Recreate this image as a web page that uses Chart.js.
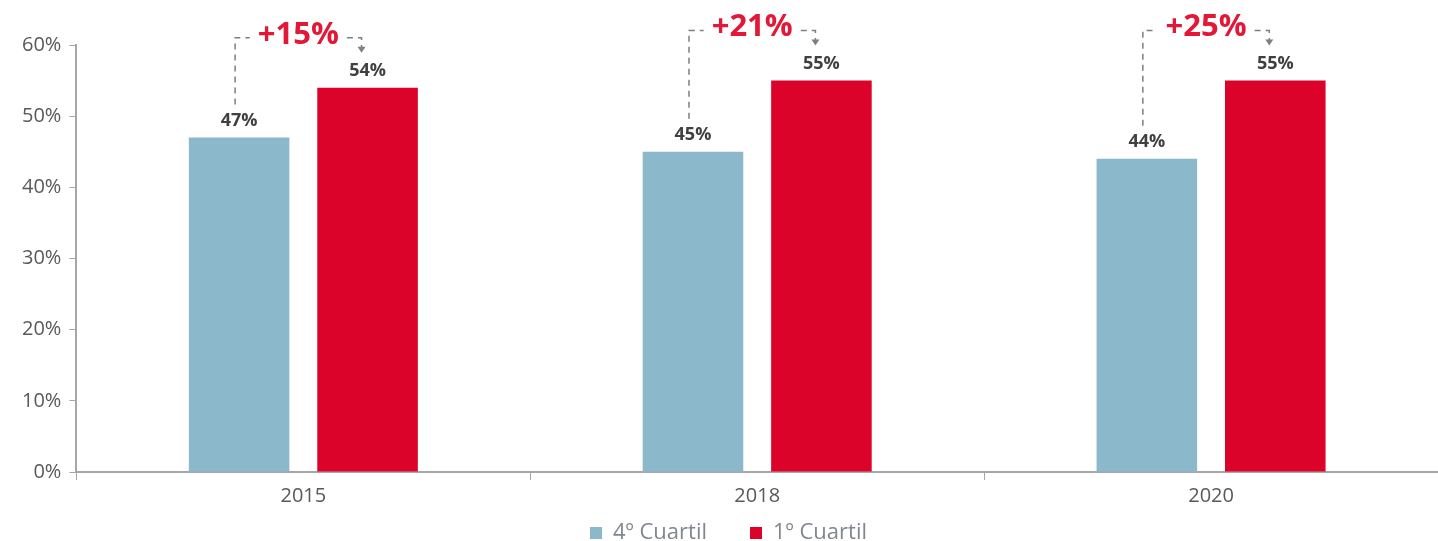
<!DOCTYPE html>
<html>
<head>
<meta charset="utf-8">
<script src="https://cdn.jsdelivr.net/npm/chart.js@4.4.1/dist/chart.umd.min.js"></script>
<style>
  html, body { margin: 0; padding: 0; background: #fff; }
  #wrap { width: 1438px; height: 541px; position: relative; }
</style>
</head>
<body>
<div id="wrap"><canvas id="quartileChart"></canvas></div>
<script>
// Chart data
const categories = ["2015", "2018", "2020"];
const cuartil4 = [47, 45, 44];
const cuartil1 = [54, 55, 55];
const growthLabels = ["+15%", "+21%", "+25%"];
const seriesNames = ["4º Cuartil", "1º Cuartil"];

const BLUE = "#8cb8cc";
const RED = "#dc032b";
const AXIS = "#a6a6a6";
const FONT = "'Open Sans', sans-serif";

// draws the value labels and the dashed growth brackets
const annotatePlugin = {
    id: "annotate",
    afterDatasetsDraw(chart) {
        const ctx = chart.ctx;
        const blueBars = chart.getDatasetMeta(0).data;
        const redBars = chart.getDatasetMeta(1).data;
        ctx.save();
        ctx.textAlign = "center";
        ctx.textBaseline = "middle";

        blueBars.forEach((bar, i) => {
            const red = redBars[i];
            // value labels
            ctx.fillStyle = "#404040";
            ctx.font = "bold 18px " + FONT;
            ctx.fillText(cuartil4[i] + "%", bar.x, bar.y - 17);
            ctx.fillText(cuartil1[i] + "%", red.x, red.y - 17);

            // bracket
            const leftX = bar.x - 4;
            const rightX = red.x - 6;
            const topY = red.y - 50;
            const midX = (leftX + rightX) / 2;
            ctx.font = "bold 31px " + FONT;
            const tw = ctx.measureText(growthLabels[i]).width;

            ctx.strokeStyle = "#7f7f7f";
            ctx.lineWidth = 1.5;
            ctx.setLineDash([6, 5]);
            ctx.beginPath();
            ctx.moveTo(leftX, bar.y - 33);
            ctx.lineTo(leftX, topY);
            ctx.lineTo(midX - tw / 2 - 8, topY);
            ctx.moveTo(midX + tw / 2 + 8, topY);
            ctx.lineTo(rightX, topY);
            ctx.lineTo(rightX, red.y - 40);
            ctx.stroke();
            ctx.setLineDash([]);

            // arrow head
            ctx.fillStyle = "#7f7f7f";
            ctx.beginPath();
            ctx.moveTo(rightX - 4, red.y - 41);
            ctx.lineTo(rightX + 4, red.y - 41);
            ctx.lineTo(rightX, red.y - 35);
            ctx.closePath();
            ctx.fill();

            // growth text
            ctx.fillStyle = "#e31837";
            ctx.fillText(growthLabels[i], midX, topY - 3);
        });
        ctx.restore();
    }
};

const ctx = document.getElementById("quartileChart").getContext("2d");

new Chart(ctx, {
    type: "bar",
    data: {
        labels: categories,
        datasets: [{
            label: seriesNames[0],
            data: cuartil4,
            backgroundColor: BLUE,
            barPercentage: 0.783,
            categoryPercentage: 0.566
        }, {
            label: seriesNames[1],
            data: cuartil1,
            backgroundColor: RED,
            barPercentage: 0.783,
            categoryPercentage: 0.566
        }]
    },
    options: {
        responsive: true,
        maintainAspectRatio: false,
        animation: false,
        layout: {
            padding: { top: 45, left: 14, right: -5, bottom: -13 }
        },
        plugins: {
            legend: {
                position: "bottom",
                labels: {
                    boxWidth: 12,
                    boxHeight: 12,
                    padding: 10,
                    color: "#7f8790",
                    font: { family: FONT, size: 22 },
                    // wider gap between the two entries
                    generateLabels(chart) {
                        const items = Chart.defaults.plugins.legend.labels.generateLabels(chart);
                        items[0].text += "\u2002\u2002\u2002";
                        return items;
                    }
                }
            },
            tooltip: { enabled: false }
        },
        scales: {
            x: {
                grid: {
                    offset: true,
                    drawOnChartArea: false,
                    drawTicks: true,
                    tickLength: 8,
                    color: AXIS
                },
                border: { color: AXIS, width: 2 },
                ticks: {
                    color: "#595959",
                    padding: 4,
                    font: { family: FONT, size: 20 }
                }
            },
            y: {
                min: 0,
                max: 60,
                grid: {
                    drawOnChartArea: false,
                    drawTicks: true,
                    tickLength: 7,
                    color: AXIS
                },
                border: { color: AXIS, width: 2 },
                ticks: {
                    stepSize: 10,
                    color: "#595959",
                    padding: 8,
                    font: { family: FONT, size: 20 },
                    callback: v => v + "%"
                }
            }
        }
    },
    plugins: [annotatePlugin]
});
</script>
</body>
</html>
